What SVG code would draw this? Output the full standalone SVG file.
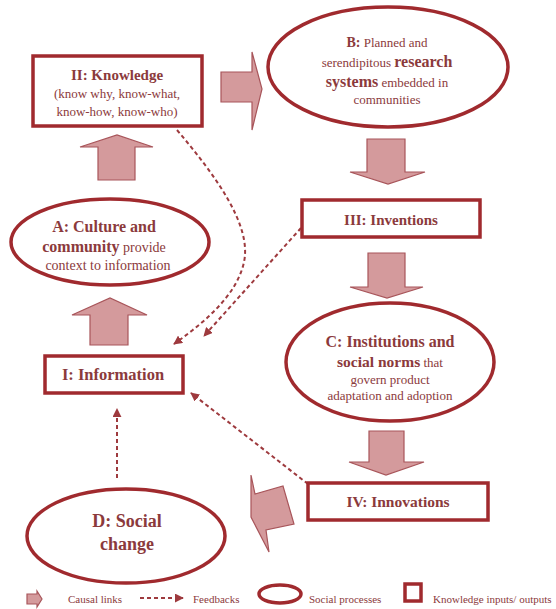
<svg xmlns="http://www.w3.org/2000/svg" width="556" height="609" viewBox="0 0 556 609">
<style>
.box{fill:#fff;stroke:#a02a2e;stroke-width:3.5}
.ell{fill:#fff;stroke:#a02a2e;stroke-width:3.5}
.arr{fill:#d49a9c;stroke:#a8555a;stroke-width:1.2;stroke-linejoin:miter}
.dash{fill:none;stroke:#9e3a3e;stroke-width:2;stroke-dasharray:4 3}
text{font-family:"Liberation Serif","Times New Roman",serif;fill:#8b3a3c;text-anchor:middle}
.b{font-weight:bold}
.lg{font-size:11px;text-anchor:start}
</style>
<defs>
<marker id="ah" viewBox="0 0 10 10" refX="9" refY="5" markerWidth="9" markerHeight="9" markerUnits="userSpaceOnUse" orient="auto">
<path d="M0,0 L10,5 L0,10 z" fill="#9e3a3e"/>
</marker>
</defs>
<rect width="556" height="609" fill="#fff"/>

<g id="connectors">
<polygon class="arr" points="221,72 252,72 252,52 262,89 252,130 252,102 221,102"/>
<polygon class="arr" points="367,139 405,139 405,172 425,172 388,184 350,172 367,172"/>
<polygon class="arr" points="368,253 405,253 405,287 423,287 387,298 350,287 368,287"/>
<polygon class="arr" points="369,431 404,431 404,462 424,462 386,475 349,462 369,462"/>
<polygon class="arr" points="251,475 255,494 283,486 294,524 266,530 269,552 251,517"/>
<polygon class="arr" points="90,345 128,345 128,315 147,315 110,298 72,315 90,315"/>
<polygon class="arr" points="98,180 135,180 135,147 153,147 117,135 80,147 98,147"/>
<path class="dash" marker-end="url(#ah)" d="M177,130 C215,175 252,225 244,262 C237,295 205,322 174,344"/>
<path class="dash" marker-end="url(#ah)" d="M301,228 L204,336"/>
<path class="dash" marker-end="url(#ah)" d="M308,484 L191,393"/>
<path class="dash" marker-end="url(#ah)" d="M117,478 L117,409"/>
</g>

<g id="node-II">
<rect class="box" x="33" y="56" width="169" height="70"/>
<text x="117" y="80" class="b" font-size="15">II: Knowledge</text>
<text x="117" y="98" font-size="13">(know why, know-what,</text>
<text x="117" y="116" font-size="13">know-how, know-who)</text>
</g>

<g id="node-B">
<ellipse class="ell" cx="388" cy="67" rx="120" ry="60"/>
<text x="387" y="47" font-size="13"><tspan class="b" font-size="14">B:</tspan> Planned and</text>
<text x="387" y="67" font-size="13">serendipitous <tspan class="b" font-size="16">research</tspan></text>
<text x="387" y="87" font-size="13"><tspan class="b" font-size="16">systems</tspan> embedded in</text>
<text x="387" y="104" font-size="13">communities</text>
</g>

<g id="node-III">
<rect class="box" x="302" y="200" width="178" height="37"/>
<text x="391" y="225" class="b" font-size="15">III: Inventions</text>
</g>

<g id="node-C">
<ellipse class="ell" cx="390" cy="362" rx="104" ry="59"/>
<text x="390" y="347" class="b" font-size="16">C: Institutions and</text>
<text x="390" y="367" font-size="13"><tspan class="b" font-size="15.5">social norms</tspan> that</text>
<text x="390" y="384" font-size="13">govern product</text>
<text x="390" y="400" font-size="13">adaptation and adoption</text>
</g>

<g id="node-IV">
<rect class="box" x="308" y="483" width="180" height="37"/>
<text x="398" y="507" class="b" font-size="15.5">IV: Innovations</text>
</g>

<g id="node-D">
<ellipse class="ell" cx="126" cy="536" rx="99" ry="47"/>
<text x="127" y="527" class="b" font-size="18">D: Social</text>
<text x="127" y="550" class="b" font-size="18">change</text>
</g>

<g id="node-I">
<rect class="box" x="45" y="356" width="138" height="37"/>
<text x="113" y="380" class="b" font-size="16.5">I: Information</text>
</g>

<g id="node-A">
<ellipse class="ell" cx="110" cy="242" rx="99" ry="43"/>
<text x="104" y="232" class="b" font-size="16">A: Culture and</text>
<text x="104" y="252" font-size="14"><tspan class="b" font-size="16">community</tspan> provide</text>
<text x="108" y="270" font-size="14">context to information</text>
</g>

<g id="legend">
<polygon class="arr" points="27,594 37,594 37,591 42,599 37,607 37,604 27,604"/>
<text class="lg" x="68" y="603">Causal links</text>
<path class="dash" marker-end="url(#ah)" d="M140,598 L183,598"/>
<text class="lg" x="193" y="603">Feedbacks</text>
<ellipse class="ell" cx="280" cy="594" rx="21" ry="9" stroke-width="3"/>
<text class="lg" x="309" y="603">Social processes</text>
<rect class="box" x="405" y="584" width="16" height="17" stroke-width="3"/>
<text class="lg" x="433" y="603">Knowledge inputs/ outputs</text>
</g>
</svg>
